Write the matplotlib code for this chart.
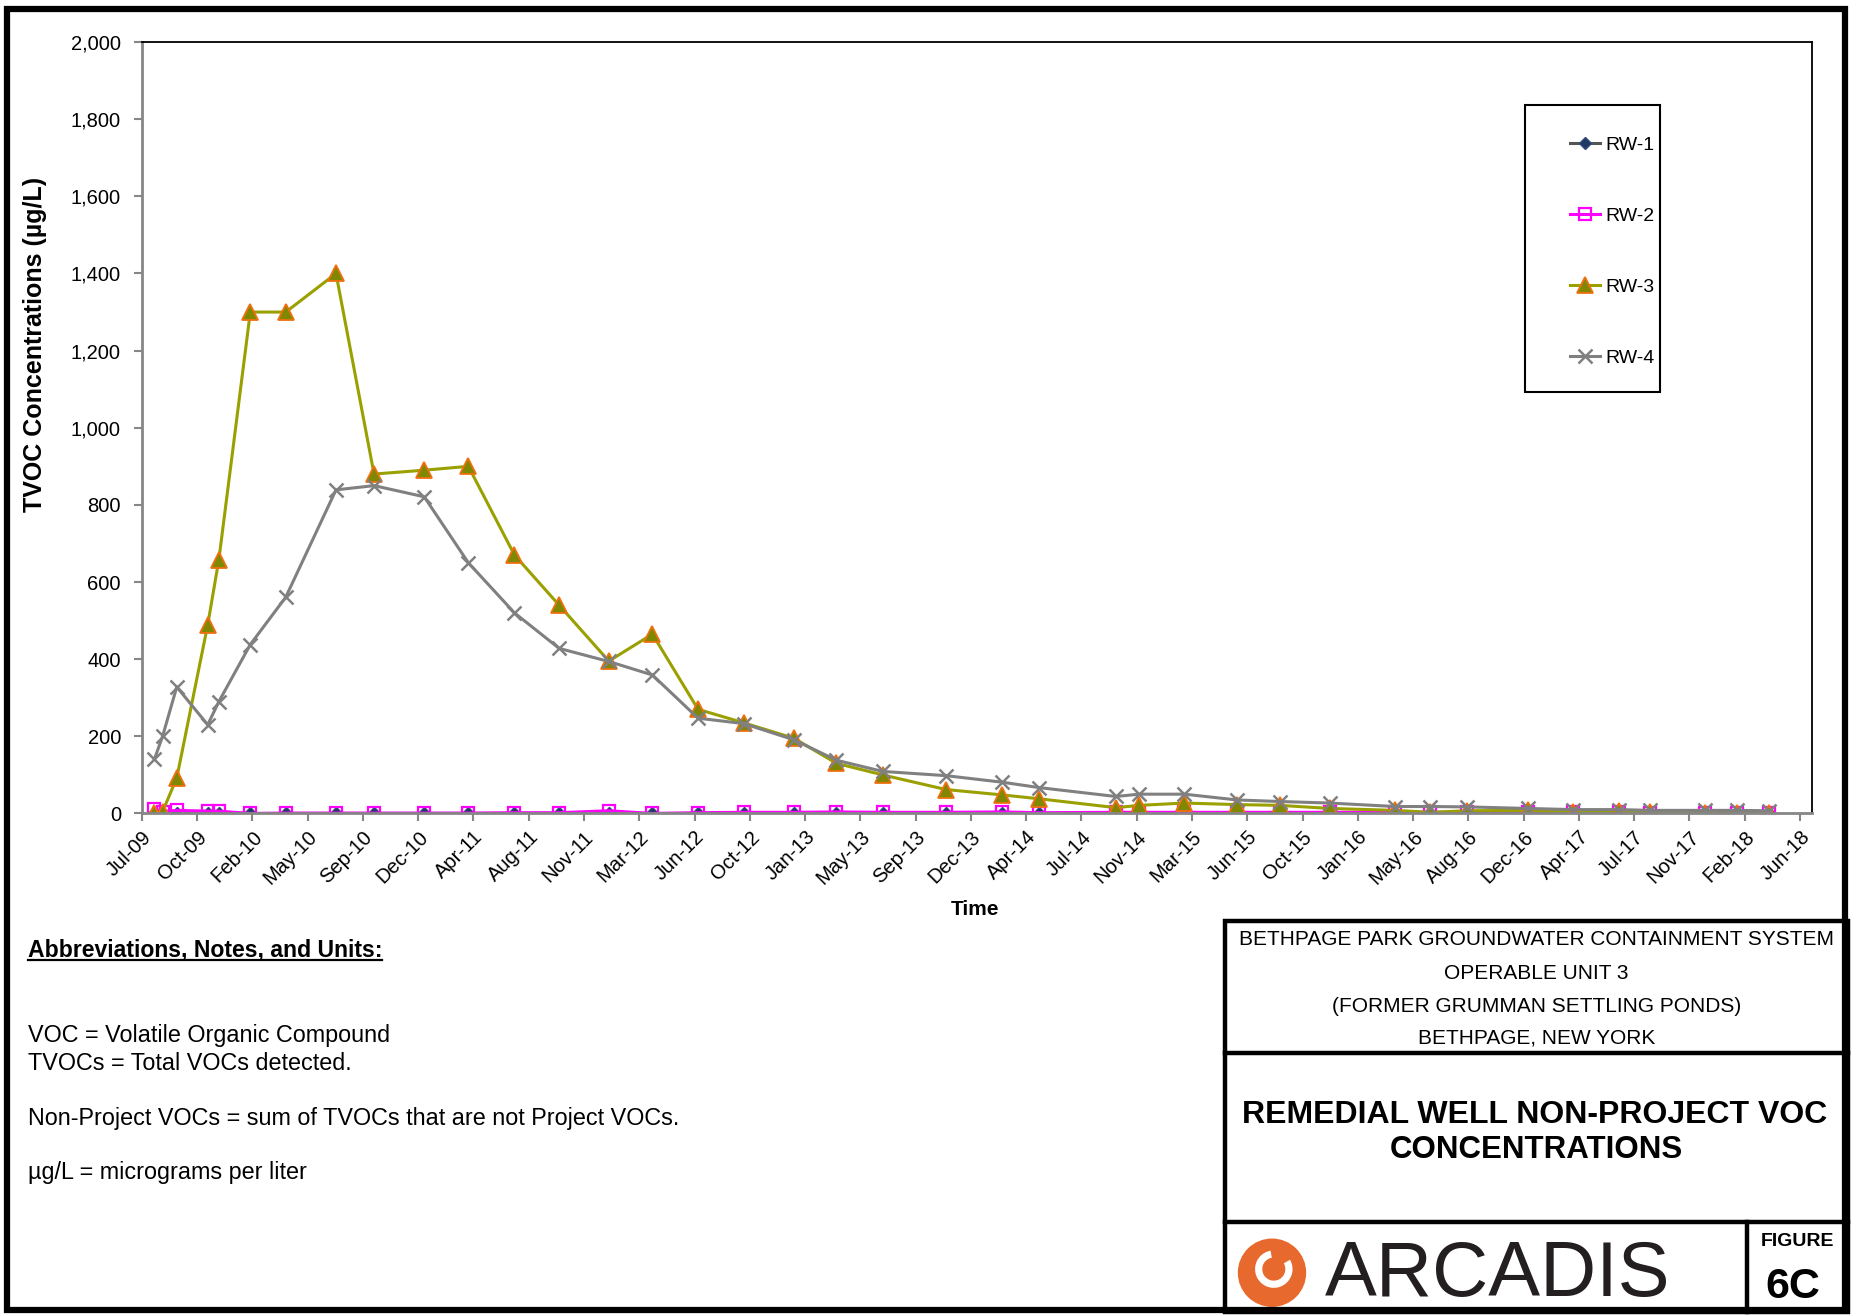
import matplotlib
matplotlib.use('agg')
import matplotlib.pyplot as plt
import matplotlib.dates as mdates
from matplotlib.patches import Rectangle, Circle, Wedge
from matplotlib.lines import Line2D
import numpy as np
import pandas as pd

plt.rcParams['font.family'] = ['Liberation Sans', 'DejaVu Sans']

# sampling dates
sample_dates = pd.to_datetime([
    '2009-07-26', '2009-08-11', '2009-09-08', '2009-11-08', '2009-11-30',
    '2010-01-31', '2010-04-11', '2010-07-19', '2010-10-02', '2011-01-09',
    '2011-04-06', '2011-07-06', '2011-10-02', '2012-01-08', '2012-04-03',
    '2012-07-02', '2012-09-30', '2013-01-07', '2013-04-01', '2013-07-01',
    '2013-11-03', '2014-02-22', '2014-05-06', '2014-10-04', '2014-11-19',
    '2015-02-16', '2015-05-31', '2015-08-23', '2015-11-30', '2016-04-06',
    '2016-06-15', '2016-08-27', '2016-12-24', '2017-03-24', '2017-06-23',
    '2017-08-23', '2017-12-09', '2018-02-10', '2018-04-14'])

series_names = ['RW-1', 'RW-2', 'RW-3', 'RW-4']

rw1 = [0, 0, 2, 1, 1, 0, 0, 0, 0, 0,
       0, 0, 0, 0, 0, 0, 0, 0, 0, 0,
       0, 0, 0, 0, 0, 0, 0, 0, 0, 0,
       0, 0, 0, 0, 0, 0, 0, 0, 0]
rw2 = [12, 5, 8, 6, 6, 0, 1, 1, 1, 1,
       1, 2, 2, 7, 0, 2, 3, 3, 4, 3,
       3, 4, 2, 3, 3, 3, 3, 3, 3, 3,
       3, 3, 3, 3, 3, 2, 2, 2, 2]
rw3 = [0, 5, 92, 489, 658, 1300, 1300, 1400, 880, 890,
       900, 670, 540, 395, 465, 270, 235, 195, 130, 100,
       62, 48, 38, 15, 21, 27, 23, 21, 13, 8,
       3, 7, 8, 4, 6, 4, 2, 2, 0]
rw4 = [141, 200, 328, 230, 290, 438, 561, 839, 850, 821,
       650, 520, 428, 394, 359, 247, 233, 191, 138, 109,
       98, 81, 67, 44, 50, 50, 35, 31, 27, 18,
       18, 17, 13, 10, 10, 8, 8, 8, 7]

y_ticks = [0, 200, 400, 600, 800, 1000, 1200, 1400, 1600, 1800, 2000]
axis_start = pd.Timestamp('2009-07-01')
axis_end = pd.Timestamp('2018-07-08')
tick_step_days = 109
n_ticks = 31

notes = ['VOC = Volatile Organic Compound',
         'TVOCs = Total VOCs detected.',
         'Non-Project VOCs = sum of TVOCs that are not Project VOCs.',
         '\u00b5g/L = micrograms per liter']
site_lines = ['BETHPAGE PARK GROUNDWATER CONTAINMENT SYSTEM',
              'OPERABLE UNIT 3',
              '(FORMER GRUMMAN SETTLING PONDS)',
              'BETHPAGE, NEW YORK']

fig = plt.figure(figsize=(18.51, 13.15), dpi=100)
ax = fig.add_axes([0.0766, 0.3814, 0.979 - 0.0766, 0.968 - 0.3814])

styles = [
    dict(color='#555555', marker='D', ms=6, mfc='#1F3864', mec='#2E4A7A', mew=1),
    dict(color='#FF00FF', marker='s', ms=9, mfc='none', mec='#FF00FF', mew=1.6),
    dict(color='#9AA000', marker='^', ms=11, mfc='#7F8800', mec='#F0700F', mew=1.3),
    dict(color='#808080', marker='x', ms=10, mew=1.8),
]
handles = []
for name, vals, st in zip(series_names, [rw1, rw2, rw3, rw4], styles):
    h, = ax.plot(sample_dates, vals, lw=2.2, label=name, **st)
    handles.append(h)

ax.set_ylim(0, 2000)
ax.set_yticks(y_ticks)
ax.yaxis.set_major_formatter(matplotlib.ticker.FuncFormatter(lambda v, p: f'{int(v):,}'))
ax.set_xlim(axis_start, axis_end)
tick_dates = axis_start + pd.to_timedelta(np.arange(n_ticks) * tick_step_days, unit='D')
ax.set_xticks(tick_dates)
ax.xaxis.set_major_formatter(mdates.DateFormatter('%b-%y'))
ax.tick_params(axis='both', which='major', direction='out', length=6, width=1.5,
               color='#868686', labelsize=14.5, labelcolor='black')
ax.tick_params(axis='y', pad=9)
ax.tick_params(axis='x', pad=4)
plt.setp(ax.get_xticklabels(), rotation=45, ha='right', va='top', rotation_mode='anchor')

for side in ['left', 'bottom']:
    ax.spines[side].set_color('#868686')
    ax.spines[side].set_linewidth(2)
for side in ['top', 'right']:
    ax.spines[side].set_color('black')
    ax.spines[side].set_linewidth(1.3)

fig.text(0.0191, 0.738, 'TVOC Concentrations (\u00b5g/L)', rotation=90, fontsize=18,
         fontweight='bold', ha='center', va='center')
fig.text(0.527, 0.308, 'Time', fontsize=15, fontweight='bold', ha='center', va='center')

# legend with a separate frame
leg = fig.legend(handles=handles, loc='center left', bbox_to_anchor=(0.848, 0.8085),
                 bbox_transform=fig.transFigure, frameon=False, fontsize=14,
                 labelspacing=2.75, handlelength=1.55, handletextpad=0.3,
                 borderpad=0, borderaxespad=0)
fig.add_artist(Rectangle((0.824, 0.7019), 0.073, 0.2183, transform=fig.transFigure,
                         fill=False, ec='black', lw=1.5))

# notes
head = fig.text(0.015, 0.2776, 'Abbreviations, Notes, and Units:', fontsize=16.6,
                fontweight='bold', ha='left', va='center')
note_y = [0.2129, 0.1916, 0.1498, 0.1087]
for txt, yy in zip(notes, note_y):
    fig.text(0.015, yy, txt, fontsize=16.8, ha='left', va='center')

# title block
tb = dict(transform=fig.transFigure, color='black', lw=3.2)
fig.add_artist(Rectangle((0.6618, 0.0023), 0.9984 - 0.6618, 0.2996 - 0.0023,
                         fill=False, ec='black', lw=3.2, transform=fig.transFigure))
fig.add_artist(Line2D([0.6618, 0.9984], [0.1992, 0.1992], **tb))
fig.add_artist(Line2D([0.6618, 0.9984], [0.0707, 0.0707], **tb))
fig.add_artist(Line2D([0.944, 0.944], [0.0023, 0.0707], **tb))

for txt, yy in zip(site_lines, [0.2852, 0.2598, 0.2345, 0.2104]):
    fig.text(0.830, yy, txt, fontsize=15, ha='center', va='center')
fig.text(0.829, 0.152, 'REMEDIAL WELL NON-PROJECT VOC', fontsize=23,
         fontweight='bold', ha='center', va='center')
fig.text(0.830, 0.1255, 'CONCENTRATIONS', fontsize=22.5,
         fontweight='bold', ha='center', va='center')
fig.text(0.9712, 0.056, 'FIGURE', fontsize=14, fontweight='bold', ha='center', va='center')
fig.text(0.9685, 0.021, '6C', fontsize=31, fontweight='bold', ha='center', va='center')
fig.text(0.7158, 0.030, 'ARCADIS', fontsize=56, color='#231F20', ha='left', va='center')

# logo
lax = fig.add_axes([(1272 - 36) / 1851, 1 - (1272 + 36) / 1315, 72 / 1851, 72 / 1315])
lax.set_xlim(-1, 1)
lax.set_ylim(-1, 1)
lax.set_aspect('equal')
lax.axis('off')
lax.add_patch(Circle((0, -0.02), 0.95, fc='#E8692D', ec='none'))
lax.add_patch(Wedge((0.05, 0.08), 0.52, 100, 390, width=0.2, fc='white', ec='none'))
lax.add_patch(Wedge((0.05, 0.08), 0.2, 0, 360, width=0.2, fc='#E8692D', ec='none'))

# outer frame
fig.add_artist(Rectangle((0.0037, 0.004), 0.9965 - 0.0037, 0.9935 - 0.004, fill=False,
                         ec='black', lw=4.5, transform=fig.transFigure))

# underline for the notes heading
fig.canvas.draw()
bb = head.get_window_extent(fig.canvas.get_renderer()).transformed(fig.transFigure.inverted())
fig.add_artist(Line2D([bb.x0, bb.x1], [bb.y0 + 0.001, bb.y0 + 0.001], color='black', lw=1.6,
                      transform=fig.transFigure))

fig.savefig('out.png', dpi=100)
